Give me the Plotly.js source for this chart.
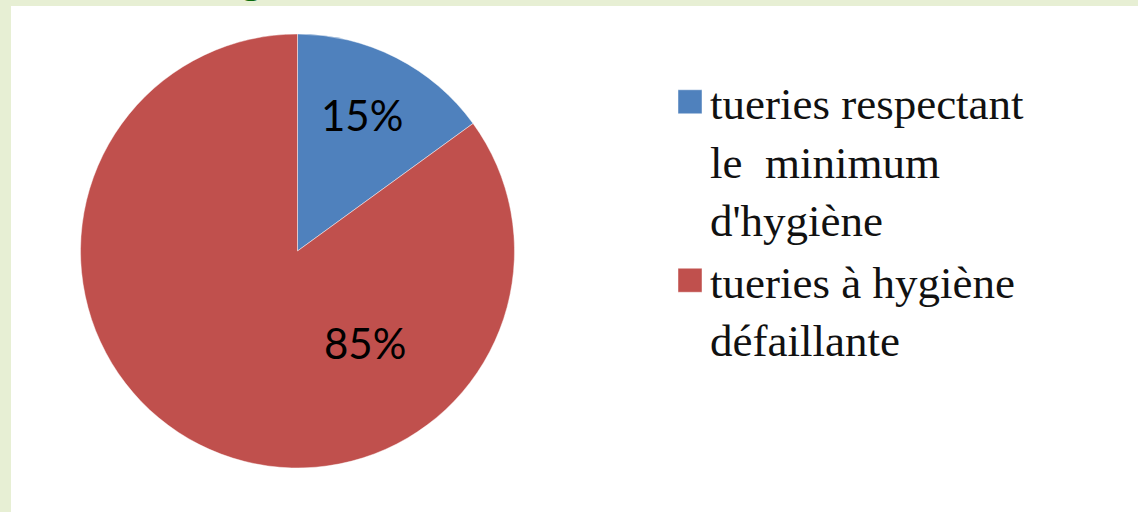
<!DOCTYPE html>
<html>
<head>
<meta charset="utf-8">
<script src="https://cdn.plot.ly/plotly-3.0.1.min.js"></script>
<style>
  html, body { margin: 0; padding: 0; background: #e7efd4; }
  #chart { width: 1138px; height: 512px; }
</style>
</head>
<body>
<div id="chart"></div>
<script>
const categories = ["tueries respectant<br>le\u00a0 minimum<br>d'hygiène", "tueries à hygiène<br>défaillante"];
const values = [15, 85];
const sliceColors = ["#4f81bd", "#c0504d"];
const pctLabels = values.map(v => v + "%");

const W = 1138, H = 512;
// pie geometry in pixels
const cx = 297.5, cy = 251, R = 217;

const trace = {
  type: "pie",
  labels: categories,
  values: values,
  sort: false,
  direction: "clockwise",
  rotation: 0,
  marker: { colors: sliceColors, line: { color: "rgba(255,255,255,0.45)", width: 1 } },
  textinfo: "none",
  hoverinfo: "label+percent",
  domain: {
    x: [(cx - R) / W, (cx + R) / W],
    y: [1 - (cy + R) / H, 1 - (cy - R) / H]
  }
};

const labelPos = [[362, 115], [365, 343]];
const annotations = pctLabels.map((t, i) => ({
  text: t,
  xref: "paper", yref: "paper",
  x: labelPos[i][0] / W, y: 1 - labelPos[i][1] / H,
  xanchor: "center", yanchor: "middle",
  showarrow: false,
  font: { family: "Lato, 'Liberation Sans', sans-serif", size: 42, color: "#000000" }
}));
// cut-off green title glyph at the top edge
annotations.push({
  text: "<b>g</b>",
  xref: "paper", yref: "paper",
  x: 251 / W, y: 1, xanchor: "center", yanchor: "bottom",
  yshift: -3,
  showarrow: false,
  font: { family: "'Liberation Sans', Arial, sans-serif", size: 44, color: "#0b6b0b" }
});

const layout = {
  width: W, height: H,
  margin: { l: 0, r: 0, t: 0, b: 0 },
  paper_bgcolor: "#e7efd4",
  showlegend: true,
  legend: {
    x: 670 / W, y: 1 - 66 / H, xanchor: "left", yanchor: "top",
    valign: "top",
    bgcolor: "rgba(0,0,0,0)",
    font: { family: "'Liberation Serif', 'Times New Roman', serif", size: 45, color: "#111111" }
  },
  shapes: [{
    type: "rect", xref: "paper", yref: "paper", layer: "below",
    x0: 11 / W, x1: 1, y0: 0, y1: 1 - 6 / H,
    fillcolor: "#ffffff", line: { width: 0 }
  }],
  annotations: annotations
};

Plotly.newPlot("chart", [trace], layout, { displayModeBar: false, staticPlot: true }).then(gd => {
  // enlarge the legend swatches to match the reference's square markers
  gd.querySelectorAll(".legend .legendpoints path").forEach(p => {
    p.setAttribute("d", "M12,12H-12V-12H12Z");
  });
});
</script>
</body>
</html>
